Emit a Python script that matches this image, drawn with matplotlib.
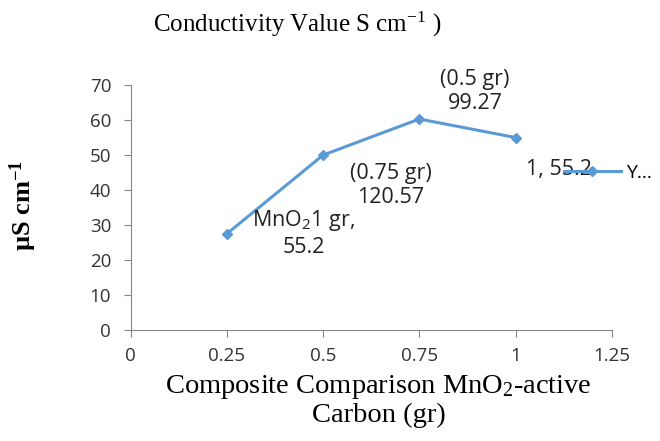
import matplotlib
matplotlib.use("Agg")
import matplotlib.pyplot as plt

plt.rcParams["mathtext.default"] = "regular"

# ── Data ──────────────────────────────────────────────────────────────────────
x_vals = [0.25, 0.5, 0.75, 1.0]
y_vals = [27.5, 50.0, 60.3, 55.0]
point_labels = ["MnO$_2$1 gr,\n55.2", "(0.75 gr)\n120.57", "(0.5 gr)\n99.27", "1, 55.2"]
label_pos = [(0.45, 27.7), (0.675, 41.4), (0.895, 68.2), (1.113, 46.0)]
x_ticks = [0, 0.25, 0.5, 0.75, 1, 1.25]
x_ticklabels = ["0", "0.25", "0.5", "0.75", "1", "1.25"]
y_ticks = [0, 10, 20, 30, 40, 50, 60, 70]

BLUE = "#5b9bd5"
GRAY = "#868686"
SANS = "Open Sans"
SERIF = "Liberation Serif"

fig = plt.figure(figsize=(6.6, 4.41), dpi=100)
ax = fig.add_axes([0.198, 0.252, 0.729, 0.555])

ax.plot(x_vals, y_vals, color=BLUE, lw=2.2, marker="D", ms=5, label="Y...")

for (lx, ly), txt in zip(label_pos, point_labels):
    ax.text(lx, ly, txt, ha="center", va="center", fontsize=15.5,
            family=SANS, color="#222222", linespacing=1.2)

ax.set_xlim(0, 1.25)
ax.set_ylim(0, 70)
ax.set_xticks(x_ticks)
ax.set_xticklabels(x_ticklabels)
ax.set_yticks(y_ticks)
for lab in ax.get_xticklabels() + ax.get_yticklabels():
    lab.set_family(SANS)
    lab.set_fontsize(13.5)
    lab.set_color("#333333")

for s in ["top", "right"]:
    ax.spines[s].set_visible(False)
for s in ["left", "bottom"]:
    ax.spines[s].set_color(GRAY)
ax.tick_params(axis="x", direction="out", length=5, color=GRAY, pad=7)
ax.tick_params(axis="y", direction="out", length=5, color=GRAY, pad=9)

ax.set_xlabel("Composite Comparison MnO$_2$-active\nCarbon (gr)",
              family=SERIF, fontsize=20.5, linespacing=1.12)
ax.xaxis.set_label_coords(0.515, -0.176)
ax.set_ylabel(r"µS cm$^{-1}$", family=SERIF, fontsize=19,
              fontweight="bold")
ax.yaxis.set_label_coords(-0.19, 0.51)

fig.text(0.45, 1 - 32 / 441, "Conductivity Value S cm$^{-1}$ )", family=SERIF,
         fontsize=18, ha="center", va="baseline")

leg = ax.legend(loc="center left", bbox_to_anchor=(0.885, 0.64), frameon=False,
                prop={"family": SANS, "size": 14}, handlelength=2.9,
                borderaxespad=0, handletextpad=0.25)

fig.savefig("out.png", dpi=100)
